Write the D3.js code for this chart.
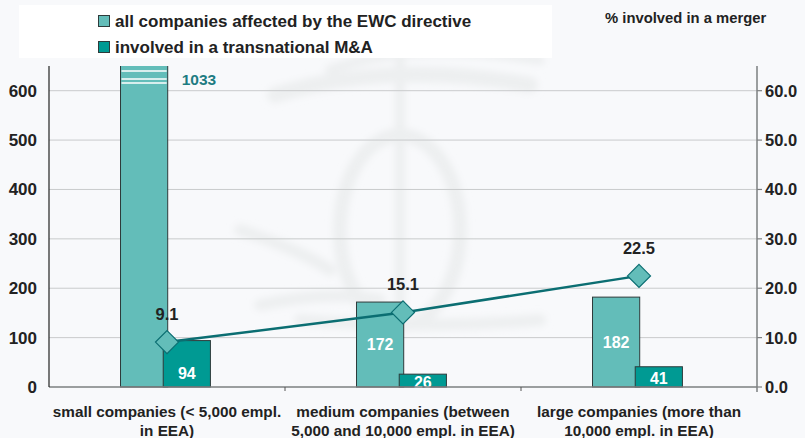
<!DOCTYPE html>
<html><head><meta charset="utf-8">
<script src="https://cdn.jsdelivr.net/npm/d3@7"></script>
<style>
html,body{margin:0;padding:0;background:#f8f9fb;}
svg{display:block;font-family:"Liberation Sans",Arial,sans-serif;font-weight:bold;}
</style></head>
<body>
<svg id="chart" width="805" height="438"></svg>
<script>
const categories = [
  ["small companies (< 5,000 empl.", "in EEA)"],
  ["medium companies (between", "5,000 and 10,000 empl. in EEA)"],
  ["large companies (more than", "10,000 empl. in EEA)"]
];
const allCompanies = [1033, 172, 182];
const transnational = [94, 26, 41];
const pctMerger = [9.1, 15.1, 22.5];
const leftTicks = [0, 100, 200, 300, 400, 500, 600];
const rightTicks = [0, 10, 20, 30, 40, 50, 60];
const seriesNames = ["all companies affected by the EWC directive", "involved in a transnational M&A"];
const rightTitle = "% involved in a merger";

const W = 805, H = 438;
const m = {l: 49, r: 48, t: 66, b: 51};
const svg = d3.select("#chart");
const lightC = "#63bdb9", darkC = "#009a93", lineC = "#0b6e72", outline = "#2e3b3b";

svg.append("rect").attr("width", W).attr("height", H).attr("fill", "#f8f9fb");

// faint watermark
const defs = svg.append("defs");
defs.append("filter").attr("id", "blur").append("feGaussianBlur").attr("stdDeviation", 3.5);
defs.append("clipPath").attr("id", "plotclip").append("rect")
  .attr("x", 0).attr("y", m.t).attr("width", W).attr("height", H - m.t);
const wm = svg.append("g").attr("filter", "url(#blur)").attr("fill", "none").attr("stroke", "#edeff0").attr("stroke-linecap", "round");
wm.append("ellipse").attr("cx", 400).attr("cy", 230).attr("rx", 60).attr("ry", 95).attr("stroke-width", 14);
wm.append("path").attr("d", "M275 95 Q390 60 530 85").attr("stroke-width", 16);
wm.append("path").attr("d", "M330 70 Q410 40 540 60").attr("stroke-width", 10);
wm.append("path").attr("d", "M240 230 Q300 250 330 270").attr("stroke-width", 12);
wm.append("path").attr("d", "M260 305 Q330 290 380 300").attr("stroke-width", 12);
wm.append("path").attr("d", "M300 320 Q420 330 540 320").attr("stroke-width", 12);
wm.append("path").attr("d", "M400 50 L400 330").attr("stroke-width", 10);

// legend box
svg.append("rect").attr("x", 19).attr("y", 5).attr("width", 533).attr("height", 53).attr("fill", "#ffffff");

const x = d3.scaleBand().domain(d3.range(categories.length)).range([m.l, W - m.r]).padding(0);
const yL = d3.scaleLinear().domain([0, 650]).range([H - m.b, m.t]);
const yR = d3.scaleLinear().domain([0, 65]).range([H - m.b, m.t]);
const bw = x.bandwidth();
const cx = i => x(i) + bw / 2;

// gridlines
svg.append("g").selectAll("line").data(leftTicks.slice(1)).join("line")
  .attr("x1", m.l).attr("x2", W - m.r)
  .attr("y1", d => yL(d)).attr("y2", d => yL(d))
  .attr("stroke", "#c9cbcc").attr("stroke-width", 1);

// bars
const barW = bw * 0.2;
const clipTop = m.t;
svg.append("g").attr("clip-path", "url(#plotclip)").selectAll("rect").data(allCompanies).join("rect")
  .attr("x", (d, i) => cx(i) - bw * 0.197)
  .attr("y", d => Math.max(yL(d), clipTop - 5))
  .attr("width", barW)
  .attr("height", d => yL(0) - Math.max(yL(d), clipTop - 5))
  .attr("fill", lightC).attr("stroke", outline).attr("stroke-width", 1);

// break marks on clipped bar
allCompanies.forEach((d, i) => {
  if (yL(d) < clipTop) {
    [5, 13, 17].forEach(off => {
      svg.append("line").attr("x1", cx(i) - bw * 0.197 + 1).attr("x2", cx(i) - bw * 0.197 + barW - 1)
        .attr("y1", clipTop + off).attr("y2", clipTop + off)
        .attr("stroke", "#ffffff").attr("stroke-width", 1.3);
    });
    svg.append("text").attr("x", cx(i) - bw * 0.197 + barW + 14).attr("y", clipTop + 19)
      .attr("fill", "#1d7c82").attr("font-size", 15.5).text(d);
  }
});

svg.append("g").selectAll("rect").data(transnational).join("rect")
  .attr("x", (d, i) => cx(i) - bw * 0.016)
  .attr("y", d => yL(d))
  .attr("width", barW)
  .attr("height", d => yL(0) - yL(d))
  .attr("fill", darkC).attr("stroke", outline).attr("stroke-width", 1);

// bar labels
svg.append("g").selectAll("text").data(allCompanies.map((v, i) => ({v, i})).filter(o => yL(o.v) >= clipTop)).join("text")
  .attr("x", o => cx(o.i) - bw * 0.197 + barW / 2)
  .attr("y", o => (yL(o.v) + yL(0)) / 2 + 5.5)
  .attr("text-anchor", "middle").attr("fill", "#ffffff").attr("font-size", 16)
  .text(o => o.v);
svg.append("g").selectAll("text").data(transnational).join("text")
  .attr("x", (d, i) => cx(i) - bw * 0.016 + barW / 2)
  .attr("y", d => {
    const h = yL(0) - yL(d);
    const c = h > 28 ? yL(0) - 14 : (yL(d) + yL(0)) / 2 + 1.5;
    return c + 5.5;
  })
  .attr("text-anchor", "middle").attr("fill", "#ffffff").attr("font-size", 16)
  .text(d => d);

// axes
svg.append("line").attr("x1", m.l).attr("x2", W - m.r).attr("y1", yL(0)).attr("y2", yL(0))
  .attr("stroke", "#7d7f80").attr("stroke-width", 1.5);
[1, 2].forEach(i => {
  svg.append("line").attr("x1", x(i)).attr("x2", x(i)).attr("y1", yL(0)).attr("y2", yL(0) + 4)
    .attr("stroke", "#555").attr("stroke-width", 1);
});
svg.append("line").attr("x1", m.l).attr("x2", m.l).attr("y1", m.t).attr("y2", yL(0))
  .attr("stroke", "#222").attr("stroke-width", 1.2);
svg.append("line").attr("x1", W - m.r).attr("x2", W - m.r).attr("y1", m.t).attr("y2", yL(0) + 5)
  .attr("stroke", "#7d7f80").attr("stroke-width", 1.5);
svg.append("g").selectAll("line").data(rightTicks).join("line")
  .attr("x1", W - m.r).attr("x2", W - m.r + 5)
  .attr("y1", d => yR(d)).attr("y2", d => yR(d))
  .attr("stroke", "#7d7f80").attr("stroke-width", 1.2);

svg.append("g").selectAll("text").data(leftTicks).join("text")
  .attr("x", 37).attr("y", d => yL(d) + 6)
  .attr("text-anchor", "end").attr("fill", "#222").attr("font-size", 17)
  .text(d => d);
svg.append("g").selectAll("text").data(rightTicks).join("text")
  .attr("x", 765).attr("y", d => yR(d) + 6)
  .attr("fill", "#222").attr("font-size", 16.5)
  .text(d => d3.format(".1f")(d));

// category labels
categories.forEach((lines, i) => {
  lines.forEach((t, j) => {
    svg.append("text").attr("x", cx(i)).attr("y", 417 + j * 19)
      .attr("text-anchor", "middle").attr("fill", "#222").attr("font-size", 15.3).text(t);
  });
});

// line series
const line = d3.line().x((d, i) => cx(i)).y(d => yR(d));
svg.append("path").datum(pctMerger).attr("d", line)
  .attr("fill", "none").attr("stroke", lineC).attr("stroke-width", 2.5);
svg.append("g").selectAll("path").data(pctMerger).join("path")
  .attr("transform", (d, i) => `translate(${cx(i)},${yR(d)})`)
  .attr("d", "M0,-11.5 L11.5,0 L0,11.5 L-11.5,0 Z")
  .attr("fill", lightC).attr("stroke", lineC).attr("stroke-width", 1.2);
svg.append("g").selectAll("text").data(pctMerger).join("text")
  .attr("x", (d, i) => cx(i)).attr("y", d => yR(d) - 22)
  .attr("text-anchor", "middle").attr("fill", "#222").attr("font-size", 16.5)
  .text(d => d3.format(".1f")(d));

// legend
const legColors = [lightC, darkC];
seriesNames.forEach((n, i) => {
  svg.append("rect").attr("x", 98.5).attr("y", 15.5 + i * 26).attr("width", 11).attr("height", 11)
    .attr("fill", legColors[i]).attr("stroke", outline).attr("stroke-width", 1);
  svg.append("text").attr("x", 115).attr("y", 27 + i * 26)
    .attr("fill", "#222").attr("font-size", 17).text(n);
});
svg.append("text").attr("x", 605).attr("y", 23).attr("fill", "#222").attr("font-size", 14.8).text(rightTitle);
</script>
</body></html>
